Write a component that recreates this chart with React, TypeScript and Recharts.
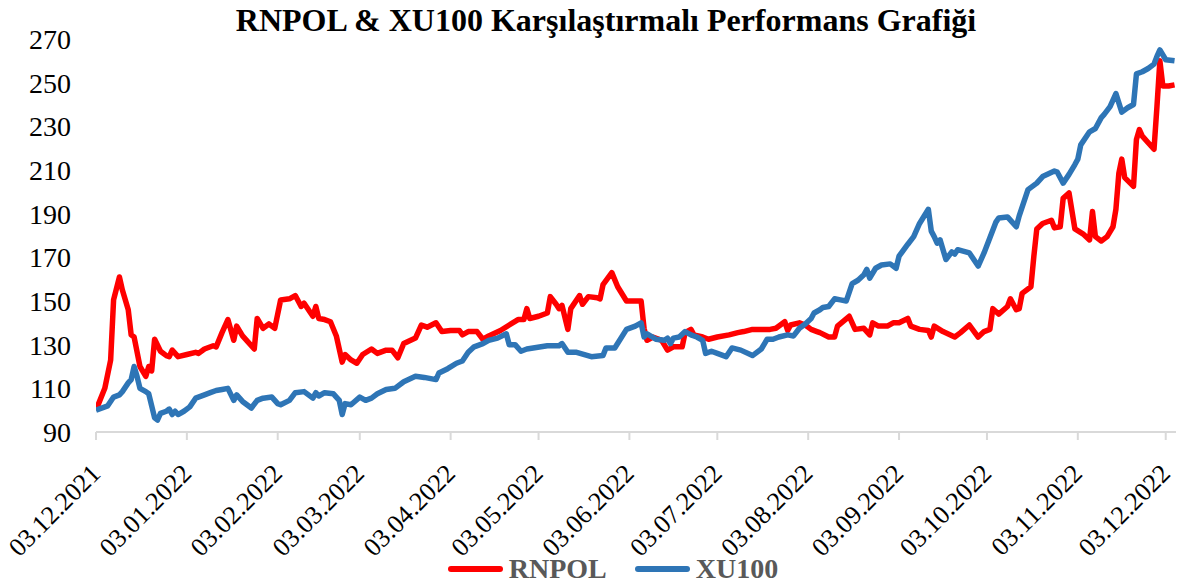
import React from "react"
import { Line, LineChart, XAxis, YAxis, Legend } from "recharts"

// days counted from 03.12.2021
const rnpolDays = [
  0, 3, 5, 6, 8, 9, 11, 12, 13, 15, 17, 18, 19, 20, 22, 24, 25, 26, 28, 31,
  34, 35, 37, 40, 41, 43, 45, 47, 48, 50, 54, 55, 57, 59, 61, 63, 66, 68, 70, 71,
  74, 75, 76, 78, 80, 82, 84, 85, 87, 89, 91, 94, 96, 99, 101, 103, 105, 109, 111, 113,
  116, 118, 121, 124, 125, 127, 130, 132, 134, 138, 141, 144, 146, 147, 148, 151, 154, 155, 157, 158,
  159, 161, 162, 165, 166, 168, 171, 172, 173, 176, 178, 181, 183, 186, 187, 188, 190, 193, 195, 197,
  200, 201, 203, 204, 207, 209, 212, 216, 219, 221, 224, 227, 230, 232, 235, 236, 237, 240, 242, 244,
  246, 247, 250, 252, 253, 257, 259, 262, 264, 265, 267, 270, 272, 274, 277, 278, 281, 284, 285, 286,
  289, 293, 295, 298, 301, 303, 305, 306, 308, 311, 312, 314, 315, 316, 319, 320, 321, 323, 326, 327,
  329, 330, 332, 334, 337, 339, 340, 341, 343, 345, 347, 348, 349, 350, 351, 354, 355, 356, 357, 361,
  362, 363, 364, 366, 368,
]
const rnpolValues = [
  100, 110, 123, 150.5, 161, 155, 146, 134.5, 133.5, 120, 115.5, 120, 118, 132.5, 127, 125, 124.5, 127.5, 124.5, 125.5,
  126.5, 126, 128, 129.5, 129, 135.5, 141.5, 132, 138.5, 134, 128, 142, 137.5, 139.5, 137.5, 150.5, 151, 152.5, 147.5, 149,
  143, 147.5, 142, 141.5, 140.5, 134, 122, 125.5, 123, 121.5, 125.5, 128, 126, 127.5, 127.5, 124, 130.5, 133, 139, 138,
  140, 136, 136.5, 136.5, 134.5, 136, 136, 132.5, 134, 136.5, 139, 141.5, 141.5, 146.5, 142, 143, 144.5, 152, 148.5, 146.5,
  148, 137, 146.5, 152.5, 148.5, 152, 151.5, 151, 157.5, 163, 156.5, 150, 150, 150, 137.5, 132, 133.5, 132, 127.5, 129,
  129, 135.5, 137, 134.5, 133.5, 132.5, 133.5, 134.5, 135.5, 136, 137, 137, 137, 137.5, 140.5, 136.5, 139, 140, 139, 137,
  136, 135.5, 133.5, 133.5, 138.5, 143, 137, 137.5, 134.5, 140, 138.5, 138.5, 140, 140, 142, 138.5, 137, 136.5, 133.5, 138.5,
  136, 133.5, 135.5, 139, 133.5, 136, 137, 146.5, 144, 147.5, 151, 146, 146.5, 153.5, 156.5, 170.5, 183, 185.5, 187, 183.5,
  184, 197, 199.5, 183, 180.5, 178, 191, 179.5, 177.5, 179.5, 184, 192, 208.5, 215, 206.5, 202.5, 224, 228.5, 225.5, 219.5,
  239, 260, 248.5, 248.5, 249,
]

const xu100Days = [
  0, 4, 6, 8, 9, 11, 12, 13, 14, 15, 17, 18, 20, 21, 22, 24, 25, 26, 27, 28,
  30, 32, 34, 37, 39, 41, 43, 45, 47, 48, 50, 53, 55, 57, 60, 62, 63, 66, 68, 71,
  74, 75, 76, 78, 81, 83, 84, 85, 87, 90, 92, 94, 96, 99, 102, 105, 109, 112, 116, 117,
  120, 123, 125, 127, 129, 132, 134, 137, 140, 141, 143, 145, 147, 154, 158, 159, 161, 164, 169, 173,
  174, 177, 181, 184, 186, 187, 188, 191, 194, 195, 196, 197, 199, 201, 203, 205, 207, 208, 210, 212,
  215, 217, 220, 224, 227, 229, 231, 233, 236, 238, 240, 242, 244, 245, 247, 248, 250, 252, 254, 256,
  258, 260, 262, 263, 264, 266, 268, 271, 273, 274, 277, 279, 281, 284, 285, 286, 287, 288, 290, 292,
  293, 294, 298, 301, 303, 305, 307, 308, 311, 314, 315, 318, 321, 323, 327, 328, 330, 332, 334, 335,
  336, 339, 341, 343, 344, 346, 348, 350, 352, 354, 355, 357, 359, 361, 362, 363, 365, 368,
]
const xu100Values = [
  100, 102, 106, 107, 108.5, 112.5, 114, 120, 115.5, 110, 108.5, 107.5, 96.5, 95.5, 98.5, 99.5, 100.5, 98, 99.5, 98,
  99.5, 101.5, 105.5, 107, 108, 109, 109.5, 110, 104.5, 107, 104, 101, 104.5, 105.5, 106, 103, 102.5, 104.5, 108, 108.5,
  105.5, 108, 106.5, 108, 107.5, 104.5, 98, 103, 102.5, 106, 104.5, 105.5, 107.5, 109.5, 110, 113, 115.5, 115, 114, 117,
  119, 121.5, 122.5, 126.5, 129, 130.5, 132, 133, 135, 130, 130, 127, 128, 129.5, 129.5, 130.5, 126.5, 126.5, 124.5, 125,
  128.5, 128.5, 137, 138.5, 140, 133.5, 135, 132.5, 132, 133, 130.5, 133, 133.5, 136, 134.5, 133.5, 132, 126, 127, 126,
  124.5, 128.5, 127.5, 125, 128, 132.5, 132.5, 133.5, 134.5, 134, 137.5, 139.5, 142, 144.5, 146, 147, 147.5, 151, 150.5, 150,
  158, 159.5, 162, 164.5, 160.5, 165, 166.5, 167, 165, 170.5, 176, 179.5, 185.5, 192, 182, 179.5, 176.5, 178, 169, 172.5,
  171.5, 173.5, 172, 166, 172, 179, 186, 188, 188.5, 184, 189, 201, 204, 207, 209.5, 209, 204, 208, 212.5, 215,
  221.5, 227.5, 229, 234, 235.5, 239, 245, 236.5, 238.5, 240, 254, 255, 256.5, 258.5, 262, 265, 260.5, 260,
]

const tickDays = [0, 31, 62, 90, 121, 151, 182, 212, 243, 274, 304, 335, 365]
const tickLabels = [
  "03.12.2021", "03.01.2022", "03.02.2022", "03.03.2022", "03.04.2022", "03.05.2022", "03.06.2022",
  "03.07.2022", "03.08.2022", "03.09.2022", "03.10.2022", "03.11.2022", "03.12.2022",
]
const yTicks = [90, 110, 130, 150, 170, 190, 210, 230, 250, 270]

const rnpolData = rnpolDays.map((d, i) => ({ day: d, value: rnpolValues[i] }))
const xu100Data = xu100Days.map((d, i) => ({ day: d, value: xu100Values[i] }))

const SERIF = "'Liberation Serif', 'Times New Roman', serif"

const DateTick = ({ x, y, payload }: any) => {
  const idx = tickDays.indexOf(payload.value)
  return (
    <text
      transform={`translate(${x + 6},${y + 33}) rotate(-45)`}
      textAnchor="end"
      fontFamily={SERIF}
      fontSize={26}
      fill="#000"
    >
      {idx >= 0 ? tickLabels[idx] : ""}
    </text>
  )
}

const legendItems = [
  { name: "RNPOL", color: "#ff0000" },
  { name: "XU100", color: "#2e75b6" },
]

const LegendContent = () => (
  <div
    style={{
      display: "flex",
      justifyContent: "center",
      alignItems: "center",
      height: 34,
      paddingLeft: 49,
      fontFamily: SERIF,
      fontWeight: "bold",
      fontSize: 28,
      color: "#595959",
    }}
  >
    {legendItems.map((it, i) => (
      <div key={it.name} style={{ display: "flex", alignItems: "center", marginLeft: i ? 28 : 0 }}>
        <span
          style={{ display: "inline-block", width: 55, height: 6, borderRadius: 3, background: it.color, marginRight: 6 }}
        />
        <span>{it.name}</span>
      </div>
    ))}
  </div>
)

export default function App() {
  return (
    <div style={{ position: "absolute", left: 0, top: 0, width: 1177, height: 586, background: "#fff" }}>
      <div
        style={{
          position: "absolute",
          left: 0,
          top: 2,
          width: 1212,
          textAlign: "center",
          fontFamily: SERIF,
          fontWeight: "bold",
          fontSize: 32,
          lineHeight: "36px",
          color: "#000",
          zIndex: 2,
        }}
      >
        RNPOL &amp; XU100 Karşılaştırmalı Performans Grafiği
      </div>
      <LineChart width={1177} height={586} margin={{ top: 39, right: 1, bottom: 10, left: 0 }}>
        <XAxis
          type="number"
          dataKey="day"
          domain={[0, 368.5]}
          ticks={tickDays}
          interval={0}
          height={110}
          tick={<DateTick />}
          tickSize={8}
          tickMargin={2}
          stroke="#d9d9d9"
          strokeWidth={2}
          allowDataOverflow
        />
        <YAxis
          type="number"
          domain={[90, 270]}
          ticks={yTicks}
          interval={0}
          width={96}
          axisLine={false}
          tickLine={false}
          tickSize={0}
          tickMargin={25}
          tick={{ fontFamily: SERIF, fontSize: 28, fill: "#000" }}
        />
        <Legend
          verticalAlign="bottom"
          content={<LegendContent />}
          wrapperStyle={{ left: 0, top: 552, width: 1177, height: 34 }}
        />
        <Line
          data={rnpolData}
          dataKey="value"
          name="RNPOL"
          type="linear"
          stroke="#ff0000"
          strokeWidth={5.5}
          strokeLinejoin="round"
          dot={false}
          activeDot={false}
          isAnimationActive={false}
        />
        <Line
          data={xu100Data}
          dataKey="value"
          name="XU100"
          type="linear"
          stroke="#2e75b6"
          strokeWidth={5.5}
          strokeLinejoin="round"
          dot={false}
          activeDot={false}
          isAnimationActive={false}
        />
      </LineChart>
    </div>
  )
}
